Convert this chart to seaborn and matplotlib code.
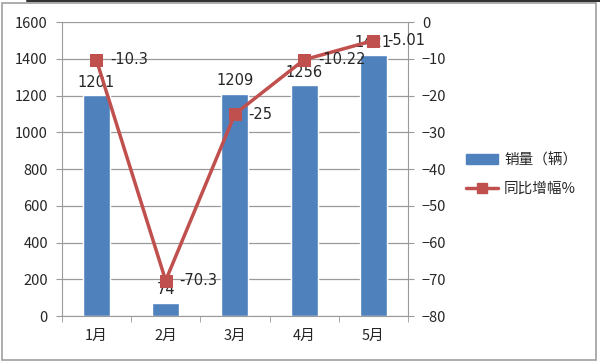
import numpy as np
import pandas as pd
import matplotlib
matplotlib.use("Agg")
import matplotlib.pyplot as plt
import seaborn as sns
from matplotlib.patches import Rectangle
from matplotlib.lines import Line2D
from matplotlib.patches import Patch

months = ["1月", "2月", "3月", "4月", "5月"]
sales = [1201, 74, 1209, 1256, 1421]
growth = [-10.3, -70.3, -25, -10.22, -5.01]
growth_labels = ["-10.3", "-70.3", "-25", "-10.22", "-5.01"]

sns.set_style("white")
plt.rcParams['font.family'] = ['Noto Sans CJK SC', 'DejaVu Sans']

bar_color = "#4F81BD"
line_color = "#C0504D"

fig = plt.figure(figsize=(6.0, 3.63), dpi=100)
ax = fig.add_axes([0.103, 0.129, 0.577, 0.81])

df = pd.DataFrame({"month": months, "sales": sales, "growth": growth, "idx": np.arange(len(months))})
sns.barplot(data=df, x="month", y="sales", color=bar_color, saturation=1, width=0.39, ax=ax)
ax.set_ylim(0, 1600)
ax.set_yticks(range(0, 1601, 200))
ax.set_xlim(-0.5, 4.5)
ax.set_xlabel("")
ax.set_ylabel("")
ax.yaxis.grid(True, color="#9a9a9a", linewidth=0.9)
ax.set_axisbelow(True)
for s in ["top", "right"]:
    ax.spines[s].set_visible(False)
ax.spines["left"].set_color("#9a9a9a")
ax.spines["bottom"].set_color("#9a9a9a")
ax.tick_params(axis="y", left=True, length=4, color="#9a9a9a", labelsize=10.5, pad=6)
ax.set_xticks(np.arange(5))
ax.set_xticklabels(months)
ax.tick_params(axis="x", bottom=False, labelsize=10.5, pad=6)
ax.set_xticks(np.arange(-0.5, 5, 1), minor=True)
ax.tick_params(axis="x", which="minor", bottom=True, length=4, color="#9a9a9a")

for i, v in enumerate(sales):
    ax.text(i, v + 30, str(v), ha="center", va="bottom", fontsize=10.5, family=['DejaVu Sans'])

ax2 = ax.twinx()
sns.lineplot(data=df, x="idx", y="growth", color=line_color, marker="s", markersize=8,
             markeredgecolor=line_color, linewidth=2.5, ax=ax2, zorder=3)
ax2.set_ylim(-80, 0)
ax2.set_yticks(range(-80, 1, 10))
ax2.set_xlim(-0.5, 4.5)
ax2.set_xlabel("")
ax2.set_ylabel("")
for s in ["top", "left", "bottom"]:
    ax2.spines[s].set_visible(False)
ax2.spines["right"].set_color("#9a9a9a")
ax2.tick_params(axis="y", right=True, length=4, color="#9a9a9a", labelsize=10.5, pad=6)
for i, (v, lab) in enumerate(zip(growth, growth_labels)):
    ax2.text(i + 0.2, v, lab, ha="left", va="center", fontsize=10.5, family=['DejaVu Sans'])

handles = [Patch(facecolor=bar_color, edgecolor=bar_color),
           Line2D([0], [0], color=line_color, linewidth=2.5, marker="s", markersize=7)]
fig.legend(handles, ["销量（辆）", "同比增幅%"], loc="center left", bbox_to_anchor=(0.755, 0.52),
           frameon=False, fontsize=10.5, handlelength=2.2, labelspacing=1.0, handletextpad=0.4)

fig.patches.append(Rectangle((0.004, 0.008), 0.99, 0.984, transform=fig.transFigure,
                             fill=False, edgecolor="#a0a0a0", linewidth=1.2))
fig.lines.append(Line2D([0.045, 1.0], [0.997, 0.997], transform=fig.transFigure, color="#333333", linewidth=1.5))

fig.savefig("out.png", dpi=100)
